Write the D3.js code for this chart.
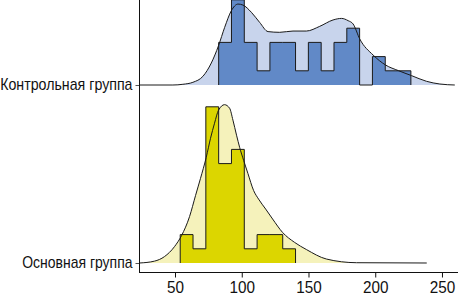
<!DOCTYPE html>
<html><head><meta charset="utf-8">
<script src="https://cdn.jsdelivr.net/npm/d3@7"></script>
<style>html,body{margin:0;padding:0;background:#fff;} svg{display:block;}</style>
</head><body>
<svg id="c" width="458" height="297"></svg>
<script>
// ---- data ----
const groups = ["Основная группа", "Контрольная группа"];
const xTicks = [50, 100, 150, 200, 250];
const binEdges = [53.9, 63.5, 73.1, 82.7, 92.3, 101.9, 111.5, 121.1, 130.7, 140.3,
                  149.9, 159.5, 169.1, 178.7, 188.3, 197.9, 207.5, 217.1, 226.7];
const mainCounts    = [2, 1, 11, 7, 8, 1, 2, 2, 1, 0, 0, 0, 0, 0, 0, 0, 0, 0];
const controlCounts = [0, 0, 0, 3, 6, 3, 1, 3, 3, 1, 3, 1, 3, 4, 0, 2, 1, 1];
const mainCurveX = [23.4, 34.6, 42.1, 49.6, 54.9, 60.9, 65.4, 69.1, 73.4, 76.6, 79.6, 82.6, 87.1,
                    90.9, 93.4, 96.1, 98.4, 101.4, 104.6, 108.9, 112.6, 117.9, 123.1, 130.6, 139.6,
                    148.4, 163.4, 185.9, 238.6];
const mainCurveY = [0, 0.13, 0.45, 1.15, 1.93, 3.27, 4.76, 5.96, 7.44, 8.78, 9.84, 10.76, 11.15,
                    10.9, 10.06, 9.0, 8.15, 7.23, 6.31, 5.1, 4.5, 3.8, 3.1, 2.15, 1.45,
                    0.95, 0.28, 0.02, 0];
const controlCurveX = [23.4, 48.4, 55.9, 63.4, 70.9, 77.2, 82.6, 87.2, 92.2, 97.2, 100.9, 107.2,
                       113.4, 119.7, 128.4, 138.4, 148.4, 158.4, 168.4, 174.7, 179.7, 183.4,
                       188.4, 198.4, 207.7, 217.4, 227.2, 238.4, 248.4, 259.6];
const controlCurveY = [0, 0, 0.05, 0.19, 0.61, 1.55, 2.77, 4.06, 5.23, 5.7, 5.63, 5.12,
                       4.41, 3.76, 3.71, 3.8, 3.8, 4.13, 4.58, 4.69, 4.53, 4.3,
                       3.24, 2.11, 1.41, 1.01, 0.66, 0.26, 0.07, 0];

// ---- layout ----
const svg = d3.select("#c");
const axisX = 139.5, axisY = 272.5;
const x = d3.scaleLinear().domain([23.4, 262]).range([axisX, 458]);
const yGroup = d3.scalePoint().domain(groups).range([263, 85]);
const unit = 14.2;
const series = [
  {name: groups[0], counts: mainCounts, cx: mainCurveX, cy: mainCurveY, dark: "#dcd600", light: "#f5f2bb"},
  {name: groups[1], counts: controlCounts, cx: controlCurveX, cy: controlCurveY, dark: "#6189c7", light: "#c8d4ec"}
];

series.forEach(s => {
  const base = yGroup(s.name);
  const maxC = d3.max(s.cy);
  const y = d3.scaleLinear().domain([0, maxC]).range([base, base - maxC * unit]);
  const g = svg.append("g");
  const pts = s.cx.map((v, i) => [v, s.cy[i]]);
  g.append("path")
    .attr("d", d3.area().x(d => x(d[0])).y0(base).y1(d => y(d[1])).curve(d3.curveMonotoneX)(pts))
    .attr("fill", s.light);
  const first = s.counts.findIndex(c => c > 0);
  let last = s.counts.length - 1;
  while (s.counts[last] === 0) last--;
  const steps = [[binEdges[first], 0]];
  for (let i = first; i <= last; i++) steps.push([binEdges[i], s.counts[i]]);
  steps.push([binEdges[last + 1], s.counts[last]]);
  steps.push([binEdges[last + 1], 0]);
  g.append("path")
    .attr("d", d3.area().x(d => x(d[0])).y0(base).y1(d => y(d[1])).curve(d3.curveStepAfter)(steps))
    .attr("fill", s.dark);
  g.append("path")
    .attr("d", d3.line().x(d => x(d[0])).y(d => y(d[1])).curve(d3.curveStepAfter)(steps))
    .attr("fill", "none").attr("stroke", "#1a1a1a").attr("stroke-width", 1);
  g.append("path")
    .attr("d", d3.line().x(d => x(d[0])).y(d => y(d[1])).curve(d3.curveMonotoneX)(pts))
    .attr("fill", "none").attr("stroke", "#1a1a1a").attr("stroke-width", 1);
});

// axes
const font = "'Liberation Sans Narrow','Arial Narrow','Liberation Sans',Arial,sans-serif";
const xAxis = svg.append("g").attr("transform", `translate(0,${axisY})`)
  .call(d3.axisBottom(x).tickValues(xTicks).tickSize(5).tickPadding(3.5).tickSizeOuter(0));
xAxis.select(".domain").remove();
xAxis.append("line").attr("x1", axisX).attr("x2", 458).attr("stroke", "#111");
xAxis.selectAll(".tick line").attr("stroke", "#111");
xAxis.selectAll("text").attr("font-family", font)
  .attr("font-size", 17).attr("fill", "#111")
  .attr("textLength", d => String(d).length * 8.5)
  .attr("lengthAdjust", "spacingAndGlyphs");

const yAxis = svg.append("g").attr("transform", `translate(${axisX},0)`)
  .call(d3.axisLeft(yGroup).tickSize(4).tickPadding(3));
yAxis.select(".domain").remove();
yAxis.append("line").attr("y1", 0).attr("y2", axisY + 0.5).attr("stroke", "#111");
yAxis.selectAll(".tick line").attr("stroke", "#555");
yAxis.selectAll("text").attr("font-family", font)
  .attr("font-size", 17).attr("fill", "#111").attr("dy", "0.25em")
  .attr("textLength", d => d.length * 7.35)
  .attr("lengthAdjust", "spacingAndGlyphs");
</script>
</body></html>
